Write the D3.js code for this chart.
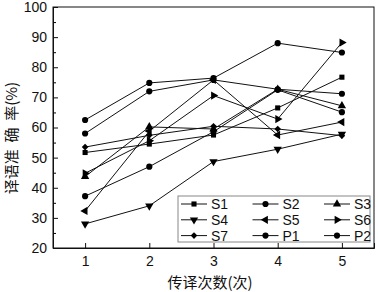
<!DOCTYPE html>
<html>
<head>
<meta charset="utf-8">
<script src="https://cdn.jsdelivr.net/npm/d3@7"></script>
<style>
  html, body { margin: 0; padding: 0; background: #fff; }
  text { font-family: "Liberation Sans", Arial, sans-serif; fill: #111; }
  .cjk { font-family: "Noto Sans CJK SC", sans-serif; }
</style>
</head>
<body>
<script>
// values (accuracy %, per interpreting pass)
const passes = [1, 2, 3, 4, 5];
const seriesNames = ['S1', 'S2', 'S3', 'S4', 'S5', 'S6', 'S7', 'P1', 'P2'];
const S1 = [51.7, 54.5, 57.5, 66.5, 76.7];
const S2 = [62.5, 74.8, 76.4, 88.0, 84.9];
const S3 = [43.7, 60.2, 59.5, 72.7, 67.2];
const S4 = [28.0, 34.0, 48.7, 52.8, 57.8];
const S5 = [32.3, 58.8, 75.8, 57.5, 61.8];
const S6 = [44.8, 55.6, 70.6, 62.8, 88.2];
const S7 = [53.5, 57.4, 60.4, 59.5, 57.3];
const P1 = [58.0, 72.0, 75.8, 72.7, 71.2];
const P2 = [37.2, 47.0, 58.6, 72.5, 65.1];
const seriesValues = [S1, S2, S3, S4, S5, S6, S7, P1, P2];
const yTicks = [20, 30, 40, 50, 60, 70, 80, 90, 100];

const width = 378, height = 292;
const margin = { top: 7, right: 4, bottom: 44, left: 53 };

const svg = d3.select('body').append('svg')
  .attr('width', width)
  .attr('height', height);

const x = d3.scaleLinear().domain([0.5, 5.5]).range([margin.left, width - margin.right]);
const y = d3.scaleLinear().domain([20, 100]).range([height - margin.bottom, margin.top]);

// marker shapes: [d3 symbol, rotation, size]
const markerOf = {
  S1: [d3.symbolSquare, 0, 26],
  S2: [d3.symbolCircle, 0, 30],
  S3: [d3.symbolTriangle, 0, 30],
  S4: [d3.symbolTriangle, 180, 30],
  S5: [d3.symbolTriangle, -90, 30],
  S6: [d3.symbolTriangle, 90, 30],
  S7: [d3.symbolSquare, 45, 22],
  P1: [d3.symbolCircle, 0, 30],
  P2: [d3.symbolCircle, 0, 30]
};

function drawMarker (g, name, cx, cy) {
  const [type, rot, size] = markerOf[name];
  g.append('path')
    .attr('d', d3.symbol().type(type).size(size)())
    .attr('transform', `translate(${cx},${cy}) rotate(${rot})`)
    .attr('fill', '#000');
}

// axes (ticks inward)
const xAxis = d3.axisBottom(x).tickValues(passes).tickSize(-5).tickPadding(8).tickFormat(d3.format('d'));
const yAxis = d3.axisLeft(y).tickValues(yTicks).tickSize(-5).tickPadding(6);
const yMinor = d3.axisLeft(y).tickValues(d3.range(25, 100, 10)).tickSize(-3).tickFormat('');

const gx = svg.append('g').attr('transform', `translate(0,${height - margin.bottom})`).call(xAxis);
const gy = svg.append('g').attr('transform', `translate(${margin.left},0)`).call(yAxis);
svg.append('g').attr('transform', `translate(${margin.left},0)`).call(yMinor)
  .call(g => g.select('.domain').remove());

[gx, gy].forEach(g => {
  g.selectAll('text').attr('font-size', 14).attr('fill', '#111');
  g.selectAll('line, path').attr('stroke', '#111');
});

// frame
svg.append('rect')
  .attr('x', margin.left).attr('y', margin.top)
  .attr('width', width - margin.left - margin.right)
  .attr('height', height - margin.top - margin.bottom)
  .attr('fill', 'none').attr('stroke', '#111');

// series lines + markers
const line = d3.line().x((d, i) => x(passes[i])).y(d => y(d));
const plot = svg.append('g');
seriesValues.forEach((vals) => {
  plot.append('path')
    .attr('d', line(vals))
    .attr('fill', 'none')
    .attr('stroke', '#111')
    .attr('stroke-width', 1);
});
seriesValues.forEach((vals, si) => {
  vals.forEach((v, i) => drawMarker(plot, seriesNames[si], x(passes[i]), y(v)));
});

// legend
const lg = svg.append('g');
lg.append('rect')
  .attr('x', 178).attr('y', 196).attr('width', 192).attr('height', 46)
  .attr('fill', '#fff').attr('stroke', '#888');
seriesNames.forEach((name, i) => {
  const col = i % 3, row = Math.floor(i / 3);
  const lx = 180 + col * 71.5;
  const ly = 204 + row * 15.8;
  lg.append('line')
    .attr('x1', lx + 1).attr('x2', lx + 27)
    .attr('y1', ly).attr('y2', ly)
    .attr('stroke', '#111');
  drawMarker(lg, name, lx + 14, ly);
  lg.append('text')
    .attr('x', lx + 31).attr('y', ly)
    .attr('dy', '0.36em')
    .attr('font-size', 14)
    .text(name);
});

// axis titles
svg.append('text')
  .attr('class', 'cjk')
  .attr('x', 210).attr('y', 288)
  .attr('text-anchor', 'middle')
  .attr('font-size', 15)
  .text('传译次数(次)');

svg.append('text')
  .attr('class', 'cjk')
  .attr('transform', 'translate(17,138) rotate(-90)')
  .attr('text-anchor', 'middle')
  .attr('font-size', 15)
  .text('译语准\u00a0\u00a0确\u00a0\u00a0率(%)');
</script>
</body>
</html>
